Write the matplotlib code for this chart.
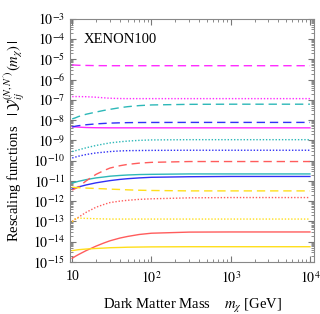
import numpy as np
import matplotlib
matplotlib.use('Agg')
import matplotlib.pyplot as plt
from matplotlib.ticker import LogLocator, FixedLocator, FixedFormatter, NullFormatter

plt.rcParams['font.family'] = ['Liberation Serif', 'DejaVu Serif']
plt.rcParams['mathtext.fontset'] = 'stix'

# dark matter mass [GeV]
mass = [10, 11, 12, 15, 20, 25, 30, 40, 50, 70, 100, 300, 1000, 10000]

# rescaling functions
mag_dash = [5.3e-6, 5.2e-6, 5.1e-6, 5.0e-6, 4.9e-6, 4.87e-6, 4.85e-6, 4.85e-6, 4.85e-6, 4.85e-6, 4.85e-6, 4.85e-6, 4.85e-6, 4.85e-6]
mag_dot = [1.45e-7, 1.45e-7, 1.45e-7, 1.43e-7, 1.35e-7, 1.26e-7, 1.2e-7, 1.16e-7, 1.15e-7, 1.15e-7, 1.15e-7, 1.15e-7, 1.15e-7, 1.15e-7]
cyan_dash = [1.15e-8, 1.3e-8, 1.5e-8, 1.95e-8, 2.5e-8, 3.0e-8, 3.4e-8, 4.1e-8, 4.6e-8, 5.2e-8, 5.6e-8, 6.0e-8, 6.1e-8, 6.1e-8]
blue_dash = [4.6e-9, 5.0e-9, 5.3e-9, 5.9e-9, 6.5e-9, 6.85e-9, 7.1e-9, 7.35e-9, 7.5e-9, 7.6e-9, 7.65e-9, 7.7e-9, 7.7e-9, 7.7e-9]
mag_solid = [4.7e-9, 4.6e-9, 4.5e-9, 4.3e-9, 4.2e-9, 4.17e-9, 4.15e-9, 4.15e-9, 4.15e-9, 4.15e-9, 4.15e-9, 4.15e-9, 4.15e-9, 4.15e-9]
cyan_dot = [2.8e-10, 3.1e-10, 3.4e-10, 4.3e-10, 5.6e-10, 6.6e-10, 7.5e-10, 8.5e-10, 9.2e-10, 1.0e-9, 1.05e-9, 1.08e-9, 1.08e-9, 1.08e-9]
blue_dot = [1.35e-10, 1.5e-10, 1.65e-10, 2.0e-10, 2.4e-10, 2.6e-10, 2.8e-10, 3.0e-10, 3.1e-10, 3.15e-10, 3.2e-10, 3.25e-10, 3.25e-10, 3.25e-10]
red_dash = [3.5e-12, 4.2e-12, 5.0e-12, 1.0e-11, 2.1e-11, 3.2e-11, 4.3e-11, 5.6e-11, 6.5e-11, 7.5e-11, 8.2e-11, 9.0e-11, 9.0e-11, 9.0e-11]
cyan_solid = [7.8e-12, 8.6e-12, 9.5e-12, 1.15e-11, 1.4e-11, 1.55e-11, 1.7e-11, 1.85e-11, 1.95e-11, 2.05e-11, 2.1e-11, 2.2e-11, 2.2e-11, 2.2e-11]
blue_solid = [4.0e-12, 4.5e-12, 5.0e-12, 6.3e-12, 8.0e-12, 9.2e-12, 1.03e-11, 1.18e-11, 1.28e-11, 1.4e-11, 1.5e-11, 1.6e-11, 1.65e-11, 1.65e-11]
yel_dash = [4.8e-12, 4.7e-12, 4.6e-12, 4.4e-12, 4.2e-12, 4.05e-12, 3.9e-12, 3.75e-12, 3.6e-12, 3.45e-12, 3.35e-12, 3.2e-12, 3.2e-12, 3.2e-12]
red_dot = [1.0e-13, 1.3e-13, 1.6e-13, 2.8e-13, 5.0e-13, 6.8e-13, 8.5e-13, 1.0e-12, 1.1e-12, 1.22e-12, 1.3e-12, 1.45e-12, 1.5e-12, 1.5e-12]
yel_dot = [9.5e-14, 1.4e-13, 1.45e-13, 1.4e-13, 1.35e-13, 1.32e-13, 1.3e-13, 1.3e-13, 1.3e-13, 1.3e-13, 1.3e-13, 1.3e-13, 1.3e-13, 1.3e-13]
red_solid = [1.5e-15, 1.9e-15, 2.3e-15, 3.6e-15, 6.0e-15, 8.5e-15, 1.1e-14, 1.5e-14, 1.8e-14, 2.25e-14, 2.6e-14, 2.95e-14, 3.0e-14, 3.0e-14]
yel_solid = [3.6e-15, 3.8e-15, 4.0e-15, 4.3e-15, 4.6e-15, 4.8e-15, 5.0e-15, 5.15e-15, 5.3e-15, 5.4e-15, 5.5e-15, 5.6e-15, 5.6e-15, 5.6e-15]

xtick_vals = [10, 100, 1000, 10000]
xtick_labels = ['10', '$10^2$', '$10^3$', '$10^4$']
ytick_vals = [10.0**k for k in range(-15, -2)]
ytick_labels = ['$10^{%d}$' % k for k in range(-15, -2)]

magenta = '#FF2BFF'
cyan = '#2DB8B8'
blue = '#3030F5'
red = '#FF5C5C'
yellow = '#FFDF1A'
dash = (6, 3.5)
dot = (1, 1.3)

fig = plt.figure(figsize=(3.2, 3.14), dpi=100)
ax = fig.add_axes([0.219, 0.166, 0.762, 0.774])

curves = [
    (mag_dash, magenta, dash), (mag_dot, magenta, dot), (mag_solid, magenta, None),
    (cyan_dash, cyan, dash), (cyan_dot, cyan, dot), (cyan_solid, cyan, None),
    (blue_dash, blue, dash), (blue_dot, blue, dot), (blue_solid, blue, None),
    (red_dash, red, dash), (red_dot, red, dot), (red_solid, red, None),
    (yel_dash, yellow, dash), (yel_dot, yellow, dot), (yel_solid, yellow, None),
]
for vals, col, ds in curves:
    line, = ax.plot(mass, vals, color=col, lw=1.0)
    if ds is not None:
        line.set_dashes(ds)

ax.set_xscale('log')
ax.set_yscale('log')
ax.set_xlim(9.4, 11230)
ax.set_ylim(1e-15, 1e-3)

ax.xaxis.set_major_locator(FixedLocator(xtick_vals))
ax.xaxis.set_major_formatter(FixedFormatter(xtick_labels))
ax.xaxis.set_minor_locator(LogLocator(base=10, subs=np.arange(2, 10), numticks=20))
ax.xaxis.set_minor_formatter(NullFormatter())
ax.yaxis.set_major_locator(FixedLocator(ytick_vals))
ax.yaxis.set_major_formatter(FixedFormatter(ytick_labels))
ax.yaxis.set_minor_locator(LogLocator(base=10, subs=np.arange(2, 10), numticks=30))
ax.yaxis.set_minor_formatter(NullFormatter())

ax.tick_params(which='both', direction='in', top=True, right=True, colors='#777777',
               labelcolor='black', labelsize=10)
ax.tick_params(which='major', length=4.5, width=0.8)
ax.tick_params(which='minor', length=2.5, width=0.6)
ax.tick_params(axis='x', pad=6)
for s in ax.spines.values():
    s.set_color('#888888')
    s.set_linewidth(0.8)

ax.text(0.055, 0.94, 'XENON100', transform=ax.transAxes, fontsize=10.5, va='top')
ax.set_xlabel(r'Dark Matter Mass    $m_\chi$ [GeV]', fontsize=10.5, labelpad=8)
ax.set_ylabel(r"Rescaling functions   $|\,\mathcal{Y}_{ij}^{(N,N')}(m_\chi)\,|$", fontsize=10.5, labelpad=4)

plt.savefig('out.png', dpi=100)
